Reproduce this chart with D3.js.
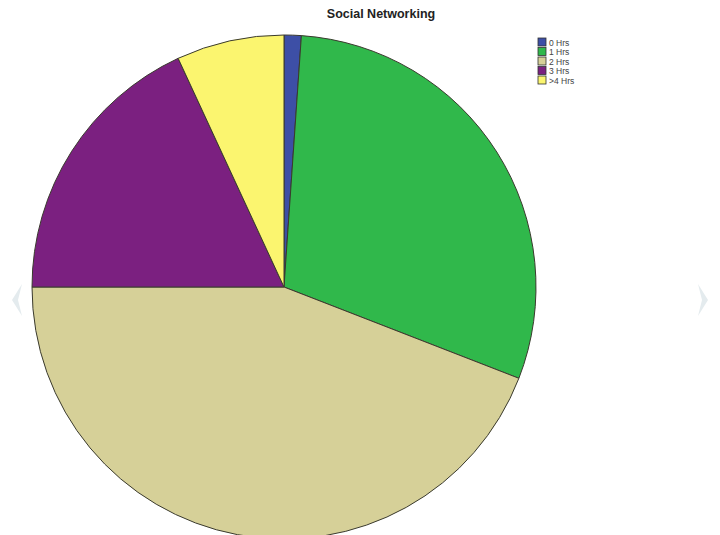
<!DOCTYPE html>
<html>
<head>
<meta charset="utf-8">
<script src="https://cdn.jsdelivr.net/npm/d3@7"></script>
<style>
  html, body { margin: 0; padding: 0; background: #ffffff; }
  svg { display: block; }
</style>
</head>
<body>
<svg id="chart" width="720" height="535"></svg>
<script>
// Time spent on social networking (percentage of respondents)
const categories = ["0 Hrs", "1 Hrs", "2 Hrs", "3 Hrs", ">4 Hrs"];
const values = [1.1, 29.8, 44.1, 18.1, 6.9];
const colors = ["#3d4fa6", "#30b84b", "#d6d098", "#7b2080", "#fbf56f"];
const title = "Social Networking";

const svg = d3.select("#chart");
const cx = 284, cy = 287, radius = 252;

// faint side markers in the page margins
svg.append("path")
  .attr("d", "M22,284 L12,300 L22,316 L18,300 Z")
  .attr("fill", "#e4ebee");
svg.append("path")
  .attr("d", "M698,284 L708,300 L698,316 L702,300 Z")
  .attr("fill", "#e4ebee");

const pie = d3.pie().sort(null).value(d => d)
  .startAngle(0).endAngle(2 * Math.PI);
const arc = d3.arc().innerRadius(0).outerRadius(radius);
const color = d3.scaleOrdinal().domain(categories).range(colors);

const g = svg.append("g").attr("transform", `translate(${cx},${cy})`);
g.selectAll("path.slice")
  .data(pie(values))
  .join("path")
  .attr("class", "slice")
  .attr("d", arc)
  .attr("fill", (d, i) => color(categories[i]))
  .attr("stroke", "#3a3a2e")
  .attr("stroke-width", 1)
  .attr("stroke-linejoin", "round");

svg.append("text")
  .attr("x", 381)
  .attr("y", 18)
  .attr("text-anchor", "middle")
  .attr("font-family", "Liberation Sans, Arial, sans-serif")
  .attr("font-weight", "bold")
  .attr("font-size", 12.5)
  .attr("fill", "#222")
  .text(title);

const legend = svg.append("g").attr("transform", "translate(538,38)");
const rowH = 9.5;
const rows = legend.selectAll("g.row")
  .data(categories)
  .join("g")
  .attr("class", "row")
  .attr("transform", (d, i) => `translate(0,${i * rowH})`);
rows.append("rect")
  .attr("width", 8).attr("height", 8)
  .attr("fill", d => color(d))
  .attr("stroke", "#333").attr("stroke-width", 0.8);
rows.append("text")
  .attr("x", 11).attr("y", 7.5)
  .attr("font-family", "Liberation Sans, Arial, sans-serif")
  .attr("font-size", 8.5)
  .attr("fill", "#444")
  .text(d => d);
</script>
</body>
</html>
